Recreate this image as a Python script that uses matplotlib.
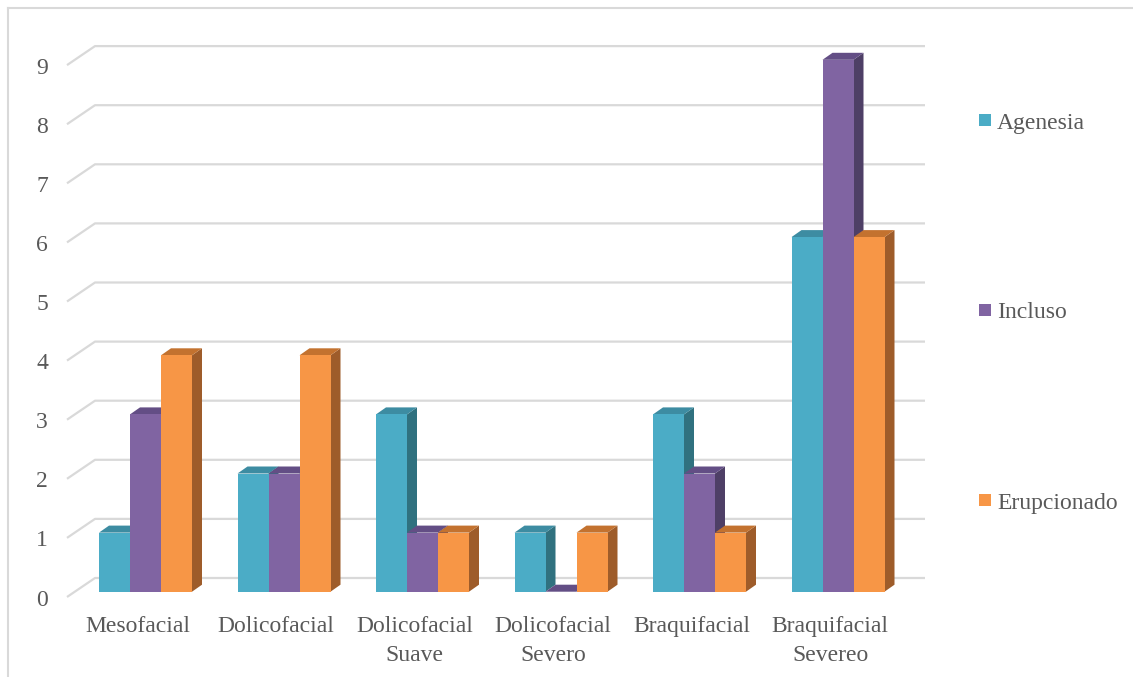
import matplotlib
matplotlib.use('Agg')
import matplotlib.pyplot as plt
from matplotlib.patches import Polygon, Rectangle
from matplotlib.lines import Line2D

# ── Datos ─────────────────────────────────────────────────────────────────────
categorias  = ['Mesofacial', 'Dolicofacial', 'Dolicofacial\nSuave',
               'Dolicofacial\nSevero', 'Braquifacial', 'Braquifacial\nSevereo']
series      = ['Agenesia', 'Incluso', 'Erupcionado']
agenesia    = [1, 2, 3, 1, 3, 6]
incluso     = [3, 2, 1, 0, 2, 9]
erupcionado = [4, 4, 1, 1, 1, 6]
ticks_y     = list(range(0, 10))

# colores: frente, tapa, lateral
FRONT = ['#4BACC6', '#8064A2', '#F79646']
TOP   = ['#3D8CA2', '#634E85', '#C3722F']
SIDE  = ['#30717F', '#4E3F66', '#9E5C2A']
GRID  = '#D9D9D9'; TXT = '#595959'
FONT  = 'Liberation Serif'

# ── Geometría (pixeles de la figura 1133x677) ────────────────────────────────
W, H = 1133, 677
X0, SX = 145.5, 138.5      # centro de la categoría 0 y separación
Y0, SY = 591.7, 59.1       # base de las barras y px por unidad
BW = 31 / SX               # ancho de barra
DX, DY = 10 / SX, 7 / SY   # profundidad de la barra

def px_x(p): return (p - X0) / SX
def px_y(p): return (Y0 - p) / SY

fig = plt.figure(figsize=(W / 100, H / 100), dpi=100)
ax = fig.add_axes([0, 0, 1, 1])
ax.set_xlim(px_x(0), px_x(W)); ax.set_ylim(px_y(H), px_y(0))
ax.axis('off')

# ── Pared del fondo y rejilla ────────────────────────────────────────────────
xf, xb, xe = px_x(67), px_x(95), px_x(925)
off_f, off_b = px_y(597) - px_y(Y0), px_y(578) - px_y(Y0)
for v in ticks_y:
    ax.plot([xf, xb, xe], [v + off_f, v + off_b, v + off_b],
            color=GRID, lw=1.6, zorder=1, solid_capstyle='butt')
    ax.text(px_x(48), v + off_f - 3 / SY, str(v), ha='right', va='center',
            fontsize=17, color=TXT, family=FONT)

# ── Barras 3D ────────────────────────────────────────────────────────────────
valores = [agenesia, incluso, erupcionado]
for j, vals in enumerate(valores):
    xs = [i + (j - 1) * BW for i in range(len(categorias))]
    for x, v in zip(xs, vals):
        l, r = x - BW / 2, x + BW / 2
        ax.add_patch(Polygon([(r, 0), (r + DX, DY), (r + DX, v + DY), (r, v)],
                             closed=True, fc=SIDE[j], ec='none', zorder=3 + 3 * j))
        ax.add_patch(Polygon([(l, v), (r, v), (r + DX, v + DY), (l + DX, v + DY)],
                             closed=True, fc=TOP[j], ec='none', zorder=4 + 3 * j))
    ax.bar(xs, vals, width=BW, color=FRONT[j], lw=0, zorder=5 + 3 * j)

# ── Etiquetas de categoría ───────────────────────────────────────────────────
for i, c in enumerate(categorias):
    ax.text(i - 8 / SX, px_y(616), c, ha='center', va='top', fontsize=17,
            color=TXT, family=FONT, linespacing=1.5)

# ── Leyenda ──────────────────────────────────────────────────────────────────
leg_y = [120, 310, 500]
for s, col, yy in zip(series, FRONT, leg_y):
    ax.add_patch(Rectangle((px_x(979), px_y(yy + 6)), 12 / SX, 12 / SY,
                           fc=col, ec='none', zorder=10))
    ax.text(px_x(997), px_y(yy + 3), s, ha='left', va='center', fontsize=17,
            color=TXT, family=FONT)

# ── Borde del área del gráfico ───────────────────────────────────────────────
fig.add_artist(Line2D([8 / W, 8 / W], [0, 1 - 8 / H], color=GRID, lw=1.5))
fig.add_artist(Line2D([8 / W, 1], [1 - 8 / H, 1 - 8 / H], color=GRID, lw=1.5))

fig.savefig('out.png', dpi=100)
